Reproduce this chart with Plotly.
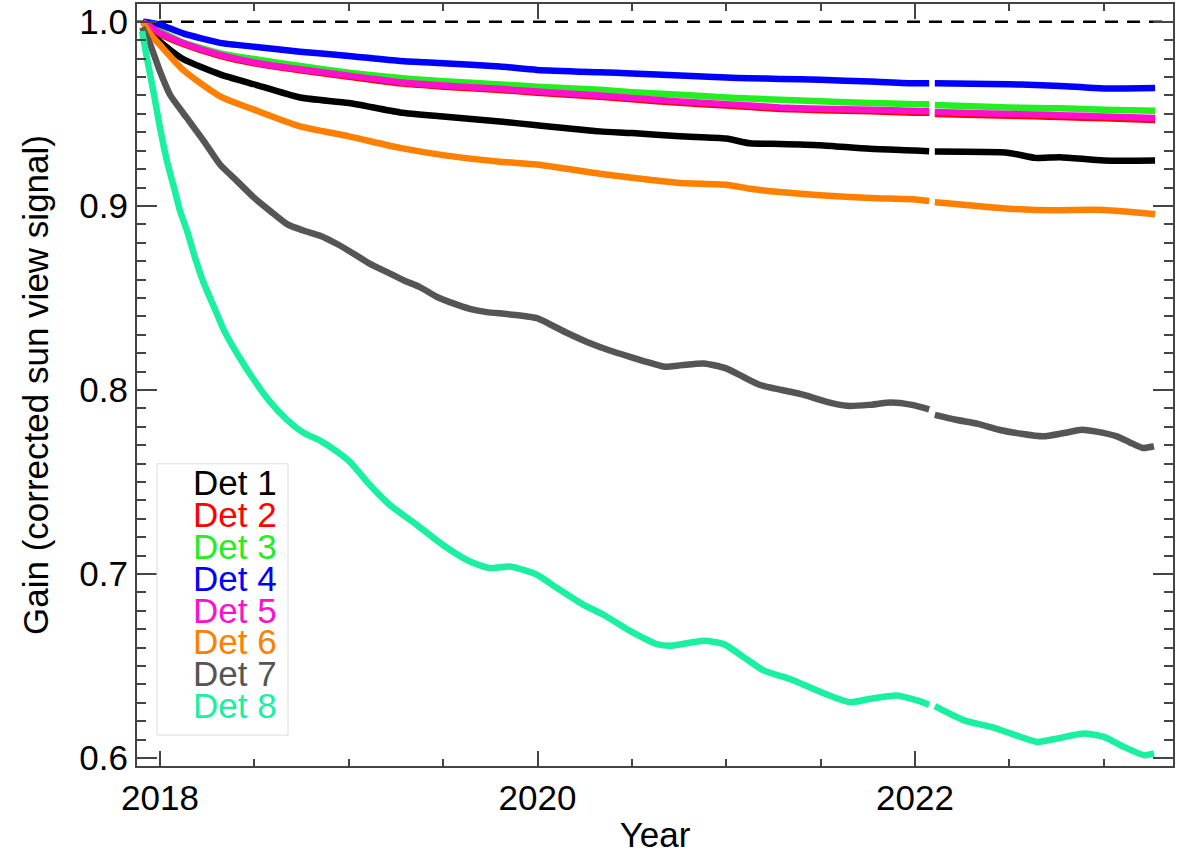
import plotly.graph_objects as go

# ---------------- data ----------------
years_upper = [2017.910, 2017.947, 2018.000, 2018.122, 2018.318, 2018.498, 2018.742,
               2019.001, 2019.272, 2019.499, 2019.801, 2019.997, 2020.331, 2020.501,
               2020.755, 2020.999, 2021.126, 2021.285, 2021.497, 2021.762, 2022.000,
               2022.075, 2022.090, 2022.105, 2022.498, 2022.636, 2022.768, 2023.001,
               2023.272]

det1 = [1.0000, 0.9955, 0.9892, 0.9798, 0.9715, 0.9661, 0.9589, 0.9559, 0.9508, 0.9486,
        0.9459, 0.9438, 0.9405, 0.9396, 0.9378, 0.9366, 0.9340, 0.9337, 0.9330, 0.9310,
        0.9301, 0.9297, None, 0.9295, 0.9288, 0.9261, 0.9265, 0.9247, 0.9247]
det2 = [1.0000, 0.9972, 0.9935, 0.9880, 0.9815, 0.9775, 0.9737, 0.9702, 0.9666, 0.9648,
        0.9630, 0.9615, 0.9593, 0.9579, 0.9560, 0.9545, 0.9537, 0.9527, 0.9520, 0.9514,
        0.9506, 0.9506, None, 0.9500, 0.9490, 0.9487, 0.9483, 0.9476, 0.9467]
det3 = [1.0000, 0.9980, 0.9950, 0.9888, 0.9829, 0.9798, 0.9760, 0.9724, 0.9695, 0.9678,
        0.9660, 0.9648, 0.9631, 0.9618, 0.9604, 0.9589, 0.9583, 0.9577, 0.9568, 0.9559,
        0.9553, 0.9553, None, 0.9548, 0.9535, 0.9532, 0.9530, 0.9523, 0.9517]
det4 = [1.0000, 0.9995, 0.9985, 0.9937, 0.9886, 0.9865, 0.9838, 0.9815, 0.9787, 0.9775,
        0.9757, 0.9739, 0.9726, 0.9720, 0.9708, 0.9697, 0.9694, 0.9690, 0.9685, 0.9676,
        0.9666, 0.9667, None, 0.9667, 0.9661, 0.9657, 0.9652, 0.9638, 0.9640]
det5 = [1.0000, 0.9975, 0.9940, 0.9885, 0.9820, 0.9780, 0.9742, 0.9708, 0.9672, 0.9654,
        0.9636, 0.9622, 0.9600, 0.9586, 0.9568, 0.9553, 0.9545, 0.9535, 0.9528, 0.9523,
        0.9515, 0.9515, None, 0.9510, 0.9500, 0.9497, 0.9493, 0.9486, 0.9477]
det6 = [1.0000, 0.9935, 0.9874, 0.9739, 0.9595, 0.9523, 0.9432, 0.9378, 0.9315, 0.9276,
        0.9240, 0.9225, 0.9175, 0.9153, 0.9125, 0.9115, 0.9093, 0.9075, 0.9058, 0.9043,
        0.9035, 0.9027, None, 0.9020, 0.8985, 0.8978, 0.8977, 0.8978, 0.8955]

years_det7 = [2017.905, 2017.947, 2018.000, 2018.053, 2018.143, 2018.233, 2018.318, 2018.408,
              2018.498, 2018.583, 2018.673, 2018.763, 2018.848, 2018.938, 2019.028, 2019.113,
              2019.203, 2019.293, 2019.377, 2019.468, 2019.558, 2019.642, 2019.732, 2019.823,
              2019.907, 2019.997, 2020.146, 2020.262, 2020.379, 2020.490, 2020.607, 2020.675,
              2020.766, 2020.882, 2020.999, 2021.089, 2021.179, 2021.295, 2021.412, 2021.528,
              2021.640, 2021.756, 2021.873, 2021.984, 2022.075, 2022.090, 2022.105, 2022.217,
              2022.334, 2022.445, 2022.562, 2022.678, 2022.789, 2022.885, 2022.954, 2023.070,
              2023.139, 2023.208, 2023.266]
det7 = [0.9970, 0.9880, 0.9730, 0.9604, 0.9477, 0.9351, 0.9225, 0.9135, 0.9045, 0.8973,
        0.8901, 0.8865, 0.8838, 0.8793, 0.8739, 0.8685, 0.8640, 0.8595, 0.8559, 0.8505,
        0.8469, 0.8441, 0.8423, 0.8414, 0.8405, 0.8390, 0.8315, 0.8261, 0.8216, 0.8180,
        0.8144, 0.8126, 0.8135, 0.8144, 0.8117, 0.8072, 0.8027, 0.8000, 0.7973, 0.7937,
        0.7914, 0.7919, 0.7932, 0.7919, 0.7895, None, 0.7865, 0.7838, 0.7816, 0.7784,
        0.7762, 0.7748, 0.7766, 0.7784, 0.7775, 0.7748, 0.7715, 0.7685, 0.7694]

years_det8 = [2017.905, 2017.931, 2017.968, 2018.000, 2018.037, 2018.074, 2018.106, 2018.143,
              2018.185, 2018.233, 2018.286, 2018.339, 2018.408, 2018.498, 2018.583, 2018.673,
              2018.763, 2018.848, 2018.938, 2019.007, 2019.113, 2019.219, 2019.362, 2019.499,
              2019.642, 2019.748, 2019.854, 2019.997, 2020.103, 2020.241, 2020.347, 2020.490,
              2020.633, 2020.702, 2020.882, 2020.988, 2021.094, 2021.200, 2021.338, 2021.481,
              2021.656, 2021.762, 2021.905, 2022.011, 2022.075, 2022.090, 2022.105, 2022.260,
              2022.403, 2022.509, 2022.646, 2022.752, 2022.895, 2023.001, 2023.107, 2023.213,
              2023.266]
det8 = [0.9950, 0.9800, 0.9605, 0.9423, 0.9243, 0.9099, 0.8973, 0.8865, 0.8720, 0.8577,
        0.8450, 0.8324, 0.8198, 0.8054, 0.7935, 0.7838, 0.7766, 0.7725, 0.7665, 0.7608,
        0.7482, 0.7374, 0.7266, 0.7158, 0.7068, 0.7032, 0.7041, 0.6996, 0.6924, 0.6834,
        0.6780, 0.6691, 0.6619, 0.6610, 0.6637, 0.6619, 0.6547, 0.6475, 0.6430, 0.6367,
        0.6304, 0.6322, 0.6340, 0.6313, 0.6290, None, 0.6282, 0.6205, 0.6169, 0.6133,
        0.6088, 0.6106, 0.6133, 0.6115, 0.6061, 0.6016, 0.6025]

names = ["Det 1", "Det 2", "Det 3", "Det 4", "Det 5", "Det 6", "Det 7", "Det 8"]
colors = ["#000000", "#ff0000", "#22ee22", "#0000ff", "#ff11cc", "#ff8000", "#555555", "#19f0a0"]

x_ticks = [2018, 2020, 2022]
x_ticktext = ["2018", "2020", "2022"]
y_ticks = [0.6, 0.7, 0.8, 0.9, 1.0]
y_ticktext = ["0.6", "0.7", "0.8", "0.9", "1.0"]

x_range = [2017.878, 2023.367]
y_range = [0.5957, 1.0097]

# ---------------- figure ----------------
series = [(years_upper, det1), (years_upper, det2), (years_upper, det3), (years_upper, det4),
          (years_upper, det5), (years_upper, det6), (years_det7, det7), (years_det8, det8)]

FONT = "Liberation Sans, Arial, Helvetica, sans-serif"
fig = go.Figure()

# reference line at gain 1.0
fig.add_shape(type="line", xref="x", yref="y", x0=x_range[0], x1=x_range[1] - 0.02,
              y0=1.0, y1=1.0, line=dict(color="black", width=2.5, dash="13px,9px"),
              layer="below")

for (xs, ys), nm, col in zip(series, names, colors):
    fig.add_trace(go.Scatter(x=xs, y=ys, mode="lines", name=nm,
                             line=dict(color=col, width=6.5, shape="spline", smoothing=0.6),
                             connectgaps=False, showlegend=False))

axis_common = dict(showgrid=False, zeroline=False, showline=True, linecolor="#444",
                   linewidth=2, mirror="ticks", ticks="inside", tickcolor="#444",
                   tickwidth=1.5, tickfont=dict(family=FONT, size=35, color="black"))

fig.update_xaxes(range=x_range, tickvals=x_ticks, ticktext=x_ticktext, ticklen=15,
                 minor=dict(dtick=0.5, tick0=2018, ticks="inside", ticklen=7,
                            tickcolor="#444", tickwidth=1.5),
                 title=dict(text="Year", font=dict(family=FONT, size=35, color="black"),
                            standoff=6),
                 **axis_common)
fig.update_yaxes(range=y_range, tickvals=y_ticks, ticktext=y_ticktext, ticklen=20,
                 minor=dict(dtick=0.01, tick0=0.6, ticks="inside", ticklen=9,
                            tickcolor="#444", tickwidth=1.5),
                 title=dict(text="Gain (corrected sun view signal)",
                            font=dict(family=FONT, size=35, color="black"), standoff=20),
                 **axis_common)

# legend box with coloured labels
L, R, T, B = 137, 1173, 2, 766
W, H = R - L, B - T
def px(x): return (x - L) / W
def py(y): return (B - y) / H

fig.add_shape(type="rect", xref="paper", yref="paper", x0=px(157), x1=px(288),
              y0=py(735), y1=py(463), line=dict(color="#dddddd", width=1),
              fillcolor="white", layer="above")
for i, (nm, col) in enumerate(zip(names, colors)):
    fig.add_annotation(xref="paper", yref="paper", x=px(279), y=py(482 + i * 31.9),
                       xanchor="right", yanchor="middle", text=nm, showarrow=False,
                       font=dict(family=FONT, size=35, color=col))

fig.update_layout(width=1181, height=855, margin=dict(l=L, r=1181 - R, t=T, b=855 - B),
                  paper_bgcolor="white", plot_bgcolor="white", showlegend=False)

fig.write_html("out.html")
